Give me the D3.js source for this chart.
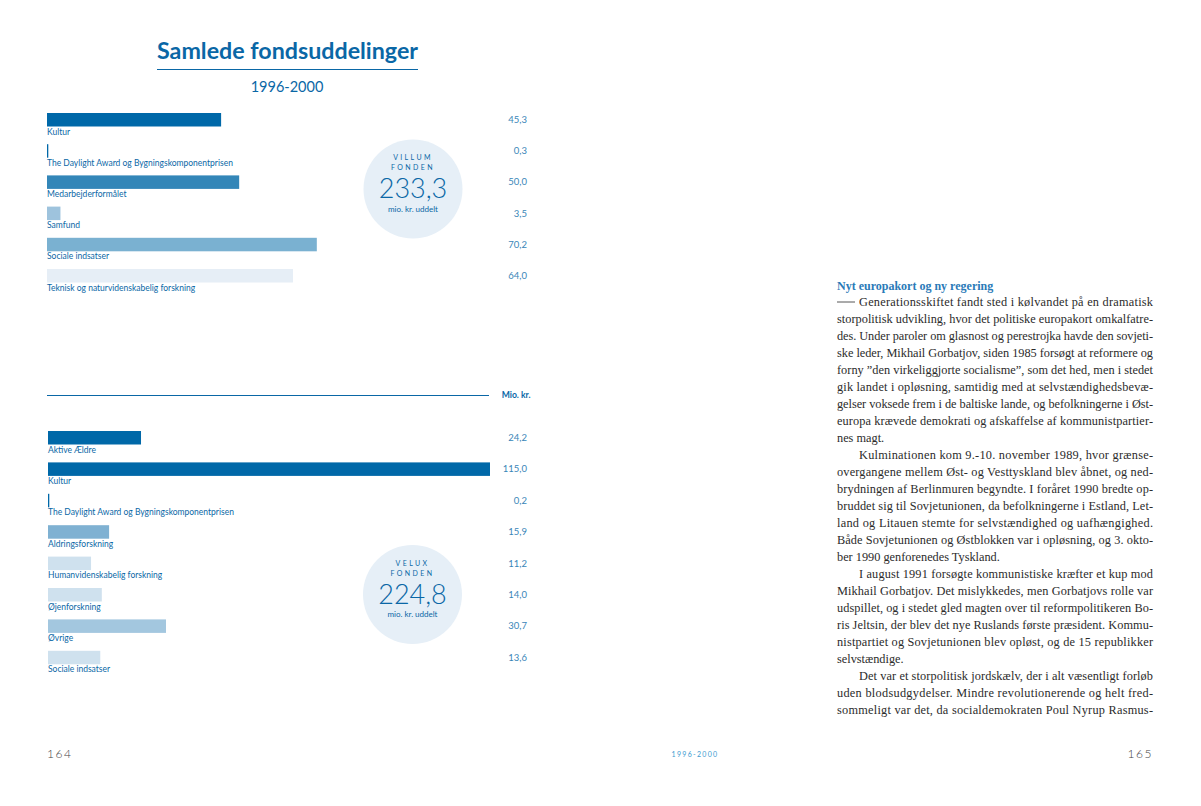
<!DOCTYPE html>
<html>
<head>
<meta charset="utf-8">
<script src="https://cdn.jsdelivr.net/npm/d3@7"></script>
<style>
  body { margin: 0; background: #fff; }
  svg { display: block; }
</style>
</head>
<body>
<div id="page"></div>
<script>
// Villum Fonden 1996-2000 (mio. kr.)
const villumCategories = ["Kultur", "The Daylight Award og Bygningskomponentprisen", "Medarbejderformålet",
    "Samfund", "Sociale indsatser", "Teknisk og naturvidenskabelig forskning"]
const villumValues = [45.3, 0.3, 50.0, 3.5, 70.2, 64.0]

// Velux Fonden 1996-2000 (mio. kr.)
const veluxCategories = ["Aktive Ældre", "Kultur", "The Daylight Award og Bygningskomponentprisen",
    "Aldringsforskning", "Humanvidenskabelig forskning", "Øjenforskning", "Øvrige", "Sociale indsatser"]
const veluxValues = [24.2, 115.0, 0.2, 15.9, 11.2, 14.0, 30.7, 13.6]

// bar colours per row
const villumColours = ["#0068a8", "#0068a8", "#3386b8", "#9ec3dd", "#7ab1d1", "#e6eef6"]
const veluxColours = ["#0068a8", "#0068a8", "#0068a8", "#7fb1d2", "#cfe1ee", "#cfe1ee", "#a3c7df", "#cfe1ee"]

// body text on the right page, one entry per printed line
const textLines = [
    {t: "Generationsskiftet fandt sted i kølvandet på en dramatisk", dash: true},
    {t: "storpolitisk udvikling, hvor det politiske europakort omkalfatre-"},
    {t: "des. Under paroler om glasnost og perestrojka havde den sovjeti-"},
    {t: "ske leder, Mikhail Gorbatjov, siden 1985 forsøgt at reformere og"},
    {t: "forny ”den virkeliggjorte socialisme”, som det hed, men i stedet"},
    {t: "gik landet i opløsning, samtidig med at selvstændighedsbevæ-"},
    {t: "gelser voksede frem i de baltiske lande, og befolkningerne i Øst-"},
    {t: "europa krævede demokrati og afskaffelse af kommunistpartier-"},
    {t: "nes magt.", last: true},
    {t: "Kulminationen kom 9.-10. november 1989, hvor grænse-", indent: true},
    {t: "overgangene mellem Øst- og Vesttyskland blev åbnet, og ned-"},
    {t: "brydningen af Berlinmuren begyndte. I foråret 1990 bredte op-"},
    {t: "bruddet sig til Sovjetunionen, da befolkningerne i Estland, Let-"},
    {t: "land og Litauen stemte for selvstændighed og uafhængighed."},
    {t: "Både Sovjetunionen og Østblokken var i opløsning, og 3. okto-"},
    {t: "ber 1990 genforenedes Tyskland.", last: true},
    {t: "I august 1991 forsøgte kommunistiske kræfter et kup mod", indent: true},
    {t: "Mikhail Gorbatjov. Det mislykkedes, men Gorbatjovs rolle var"},
    {t: "udspillet, og i stedet gled magten over til reformpolitikeren Bo-"},
    {t: "ris Jeltsin, der blev det nye Ruslands første præsident. Kommu-"},
    {t: "nistpartiet og Sovjetunionen blev opløst, og de 15 republikker"},
    {t: "selvstændige.", last: true},
    {t: "Det var et storpolitisk jordskælv, der i alt væsentligt forløb", indent: true},
    {t: "uden blodsudgydelser. Mindre revolutionerende og helt fred-"},
    {t: "sommeligt var det, da socialdemokraten Poul Nyrup Rasmus-"}
]

const blue = "#0a67a6"
const sans = "Lato, 'Open Sans', sans-serif"
const serif = "'Liberation Serif', 'DejaVu Serif', serif"

const dk = d3.formatLocale({decimal: ",", thousands: ".", grouping: [3], currency: ["", " kr."]})
const fmt = dk.format(".1f")

const svg = d3.select("#page").append("svg")
    .attr("width", 1201)
    .attr("height", 806)

// shared horizontal scale for both panels
const xScale = d3.scaleLinear()
    .domain([0, 115])
    .range([0, 442])

// Title
svg.append("text")
    .attr("x", 157).attr("y", 59)
    .attr("textLength", 261).attr("lengthAdjust", "spacingAndGlyphs")
    .style("font-family", sans).style("font-weight", 700).style("font-size", "22px")
    .style("fill", blue)
    .text("Samlede fondsuddelinger")

svg.append("line")
    .attr("x1", 157).attr("x2", 418)
    .attr("y1", 69.5).attr("y2", 69.5)
    .attr("stroke", blue).attr("stroke-width", 1)

svg.append("text")
    .attr("x", 287).attr("y", 92)
    .attr("text-anchor", "middle")
    .style("font-family", sans).style("font-size", "14.5px")
    .style("fill", blue)
    .text("1996-2000")

// one panel of bars with labels under each bar and values on the right
function drawPanel(id, cats, vals, colours, top, step, left) {
    let yScale = d3.scaleBand()
        .domain(d3.range(cats.length))
        .range([top, top + step * cats.length])

    let g = svg.append("g").attr("id", id)

    let rows = g.selectAll("g.row")
        .data(cats.map((c, i) => ({cat: c, val: vals[i], col: colours[i], i: i})))
        .enter()
        .append("g")
        .attr("class", "row")

    rows.append("rect")
        .attr("x", left)
        .attr("y", d => yScale(d.i))
        .attr("width", d => Math.max(1.3, xScale(d.val)))
        .attr("height", 13.5)
        .style("fill", d => d.col)

    rows.append("text")
        .attr("x", left)
        .attr("y", d => yScale(d.i) + 21.5)
        .style("font-family", sans).style("font-size", "8.5px")
        .style("fill", blue)
        .text(d => d.cat)

    rows.append("text")
        .attr("x", 527)
        .attr("y", d => yScale(d.i) + 10)
        .attr("text-anchor", "end")
        .style("font-family", sans).style("font-size", "9.5px")
        .style("fill", "#3a86b8")
        .text(d => fmt(d.val))
}

drawPanel("villum", villumCategories, villumValues, villumColours, 113, 31.2, 47)
drawPanel("velux", veluxCategories, veluxValues, veluxColours, 431, 31.4, 48)

// divider between the two panels
svg.append("line")
    .attr("x1", 47).attr("x2", 489)
    .attr("y1", 395.5).attr("y2", 395.5)
    .attr("stroke", blue).attr("stroke-width", 1)

svg.append("text")
    .attr("x", 530.5).attr("y", 397.5)
    .attr("text-anchor", "end")
    .style("font-family", sans).style("font-weight", 700).style("font-size", "8.6px")
    .style("fill", blue)
    .text("Mio. kr.")

// total circles
function drawTotal(name, vals, cx, cy) {
    let g = svg.append("g").attr("transform", `translate(${cx},${cy})`)
    g.append("circle").attr("r", 49.5).style("fill", "#e6eff7")
    g.append("text").attr("y", -29).text(name)
        .style("font-size", "7px").style("letter-spacing", "2.4px")
    g.append("text").attr("y", -19).text("FONDEN")
        .style("font-size", "7px").style("letter-spacing", "2.4px")
    g.append("text").attr("y", 9).text(fmt(d3.sum(vals)))
        .style("font-size", "27px").style("font-weight", 300)
    g.append("text").attr("y", 22.5).text("mio. kr. uddelt")
        .style("font-size", "8px")
    g.selectAll("text")
        .attr("text-anchor", "middle")
        .style("font-family", sans)
        .style("fill", blue)
}

drawTotal("VILLUM", villumValues, 413, 189)
drawTotal("VELUX", veluxValues, 412.5, 594.5)

// Right page text
const colLeft = 837, colRight = 1153, lineStep = 17.04, firstBase = 305.5

svg.append("text")
    .attr("x", colLeft).attr("y", firstBase - 16)
    .style("font-family", serif).style("font-weight", 700).style("font-size", "12px")
    .style("fill", "#2a7ab8")
    .text("Nyt europakort og ny regering")

textLines.forEach((l, i) => {
    let x0 = colLeft + (l.dash ? 22 : 0) + (l.indent ? 22 : 0)
    let t = svg.append("text")
        .attr("x", x0)
        .attr("y", firstBase + i * lineStep)
        .style("font-family", serif).style("font-size", "12.3px")
        .style("fill", "#2b2b2b")
        .text(l.t)
    if (!l.last) {
        t.attr("textLength", colRight - x0).attr("lengthAdjust", "spacing")
    }
    if (l.dash) {
        svg.append("line")
            .attr("x1", colLeft).attr("x2", colLeft + 18)
            .attr("y1", firstBase - 3.5).attr("y2", firstBase - 3.5)
            .attr("stroke", "#2b2b2b").attr("stroke-width", 0.8)
    }
})

// Footer
svg.append("text")
    .attr("x", 47).attr("y", 758)
    .style("font-family", sans).style("font-weight", 300).style("font-size", "12px")
    .style("letter-spacing", "1.5px").style("fill", "#444")
    .text("164")

svg.append("text")
    .attr("x", 1153).attr("y", 758)
    .attr("text-anchor", "end")
    .style("font-family", sans).style("font-weight", 300).style("font-size", "12px")
    .style("letter-spacing", "1.5px").style("fill", "#444")
    .text("165")

svg.append("text")
    .attr("x", 695).attr("y", 757)
    .attr("text-anchor", "middle")
    .style("font-family", sans).style("font-size", "7px")
    .style("letter-spacing", "1.3px").style("fill", "#3a9ad0")
    .text("1996-2000")
</script>
</body>
</html>
